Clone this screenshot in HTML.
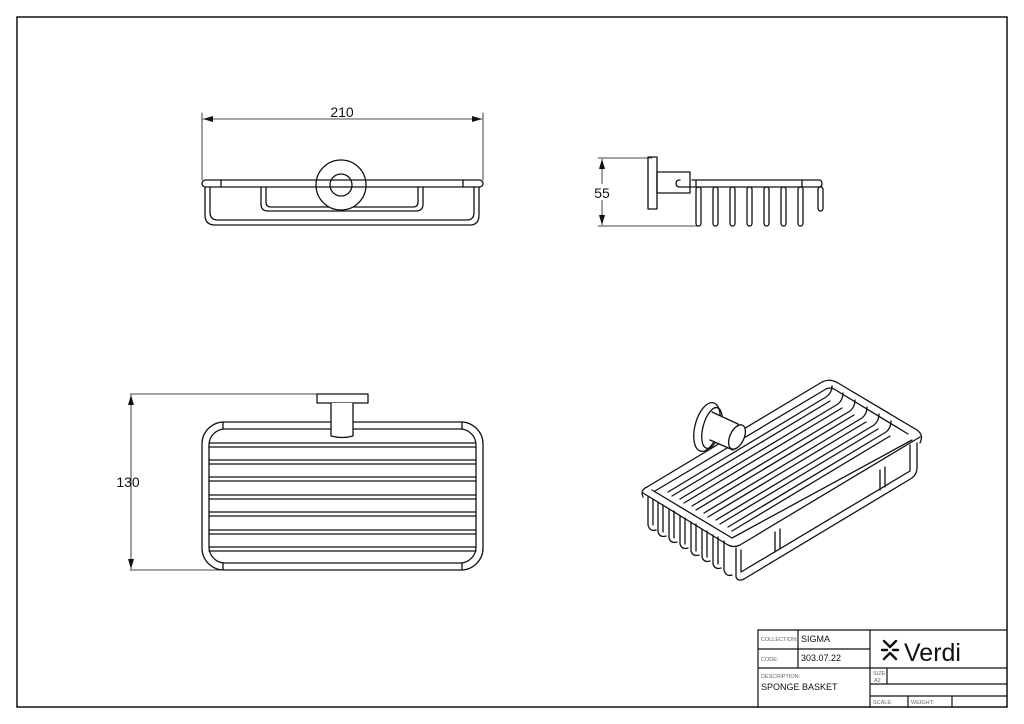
<!DOCTYPE html>
<html><head><meta charset="utf-8"><style>
html,body{margin:0;padding:0;background:#fff}
svg{display:block}
text{font-family:"Liberation Sans",sans-serif;fill:#111}
</style></head><body>
<svg width="1024" height="724" viewBox="0 0 1024 724" xmlns="http://www.w3.org/2000/svg">
<defs>
<marker id="ar" viewBox="0 0 10 6" refX="10" refY="3" markerWidth="10" markerHeight="6" orient="auto-start-reverse" markerUnits="userSpaceOnUse"><path d="M0,0L10,3L0,6z" fill="#111"/></marker>
</defs>
<rect x="17" y="17" width="990" height="690" fill="none" stroke="#111" stroke-width="1.5"/>

<!-- title block -->
<g stroke="#111" stroke-width="1.2" fill="none">
<path d="M758,707V630H1007"/>
<path d="M758,649H870M758,668H1007M798,630V668M870,630V707M870,684H1007M870,696H1007M887,668V684M908,696V707M952,696V707"/>
</g>
<g font-size="5.5">
<text x="761" y="641" style="fill:#666">COLLECTION:</text>
<text x="761" y="661" style="fill:#666">CODE:</text>
<text x="761" y="678" style="fill:#666">DESCRIPTION:</text>
<text x="873" y="675" style="fill:#666">SIZE</text>
<text x="874" y="682" style="fill:#666">A2</text>
<text x="873" y="704" style="fill:#666">SCALE:</text>
<text x="911" y="704" style="fill:#666">WEIGHT:</text>
</g>
<text x="801" y="642" font-size="9">SIGMA</text>
<text x="801" y="661" font-size="9">303.07.22</text>
<text x="761" y="690" font-size="9">SPONGE BASKET</text>
<g stroke="#111" stroke-width="2.4" stroke-linecap="round">
<path d="M884,641L890,647M896,641L890,647M884,659L890,653M896,659L890,653M882,650H887M893,650H898"/>
</g>
<text x="904" y="661" font-size="25" style="fill:#111">Verdi</text>

<g stroke="#111" fill="none" stroke-width="1.3" stroke-linecap="round" stroke-linejoin="round">
<!-- TOP VIEW -->
<path d="M202,113V180M483,113V180" stroke-width="0.8"/>
<path d="M203,119H482" stroke-width="0.8" marker-start="url(#ar)" marker-end="url(#ar)"/>
<rect x="202" y="180" width="281" height="7" rx="3.5"/>
<path d="M221,180V187M463,180V187"/>
<path d="M205,187V215Q205,225 215,225H470Q479,225 479,215V187"/>
<path d="M210,187V212Q210,220 218,220H467Q474,220 474,212V187"/>
<path d="M261,187V204Q261,211 268,211H416Q423,211 423,204V187"/>
<path d="M266,187V202Q266,207 271,207H413Q418,207 418,202V187"/>
<circle cx="341" cy="185" r="25" fill="#fff"/>
<circle cx="341" cy="185" r="11"/>
<path d="M316,180H366M316,187H366"/>

<!-- SIDE VIEW -->
<path d="M598,158H652M598,226H697" stroke-width="0.8"/>
<path d="M602,159V225" stroke-width="0.8" marker-start="url(#ar)" marker-end="url(#ar)"/>
<rect x="648" y="157" width="9" height="52"/>
<rect x="657" y="172" width="33" height="21"/>
<path d="M692,180H819Q822,180 822,183.5Q822,187 819,187H680Q676,187 676,183.5Q676,180 680,180"/>
<path d="M696,180V187M802,180V187"/>
<g>
<rect x="696" y="187" width="5" height="39" rx="2.5"/>
<rect x="713" y="187" width="5" height="39" rx="2.5"/>
<rect x="730" y="187" width="5" height="39" rx="2.5"/>
<rect x="747" y="187" width="5" height="39" rx="2.5"/>
<rect x="764" y="187" width="5" height="39" rx="2.5"/>
<rect x="781" y="187" width="5" height="39" rx="2.5"/>
<rect x="798" y="187" width="5" height="39" rx="2.5"/>
<rect x="818" y="187" width="5" height="24" rx="2.5"/>
</g>

<!-- FRONT VIEW -->
<path d="M130,394H330M130,570H225" stroke-width="0.8"/>
<path d="M131,395V569" stroke-width="0.8" marker-start="url(#ar)" marker-end="url(#ar)"/>
<rect x="202" y="422" width="281" height="148" rx="22"/>
<rect x="209" y="429" width="267" height="134" rx="16"/>
<path d="M223,422V429M462,422V429M223,563V570M462,563V570"/>
<g>
<path d="M209,443H476M209,447H476"/>
<path d="M209,460H476M209,464H476"/>
<path d="M209,477H476M209,481H476"/>
<path d="M209,495H476M209,499H476"/>
<path d="M209,512H476M209,516H476"/>
<path d="M209,530H476M209,534H476"/>
<path d="M209,547H476M209,551H476"/>
</g>
<rect x="317" y="394" width="51" height="9" fill="#fff"/>
<path d="M331,403V436Q342,439 353,436V403" fill="#fff"/>

<!-- ISO VIEW -->
<!-- back rails -->
<path d="M647,487L822,382Q830,378 838,383L917,430"/>
<path d="M655,491L826,389Q830,387 834,389L908,434"/>
<!-- floor slats with back curls -->
<g>
<path d="M668,492L826,397Q832,393 832,386V388"/>
<path d="M672,496L830,401"/>
<path d="M680,499L838,404Q843,400 843,393"/>
<path d="M684,503L842,408"/>
<path d="M692,506L850,411Q855,407 855,400"/>
<path d="M696,510L854,415"/>
<path d="M704,513L862,418Q867,414 867,407"/>
<path d="M708,517L866,422"/>
<path d="M716,520L874,425Q879,421 879,414"/>
<path d="M720,524L878,429"/>
<path d="M728,527L886,432Q891,428 891,421"/>
<path d="M732,531L890,436"/>
</g>
<!-- front rails -->
<path d="M643,493L728,545Q734,548 740,545L920,437"/>
<path d="M652,490L732,538L912,440"/>
<path d="M647,487Q640,490 643,497M917,430Q924,435 920,443"/>
<!-- left/front tines -->
<path d="M648,497V525Q650,532 656,530M658,503V532Q660,538 666,536M669,509V538Q671,544 677,542M680,516V544Q682,550 688,548M691,522V551Q693,557 699,555M702,529V557Q704,563 710,561M713,535V564Q715,570 721,568M724,541V570Q726,577 732,575"/>
<path d="M653,499V525M663,505V532M674,511V538M685,518V544M696,524V551M707,531V557M718,537V564"/>
<!-- right side lower rail -->
<path d="M736,548V577Q738,582 744,579L912,478Q917,474 917,468V443"/>
<path d="M741,550V572L910,471V445"/>
<path d="M775,532V552M780,529V549M880,470V490M885,467V487"/>
<!-- mount -->
<ellipse cx="707" cy="427" rx="12" ry="25" transform="rotate(15 707 427)" fill="#fff"/>
<ellipse cx="712" cy="428" rx="9" ry="21" transform="rotate(15 712 428)"/>
<path d="M712,412L738,424L733,450L710,440" fill="#fff"/>
<ellipse cx="737" cy="437" rx="7" ry="13" transform="rotate(25 737 437)" fill="#fff"/>
</g>

<rect x="328" y="105" width="28" height="13" fill="#fff"/>
<text x="342" y="117" font-size="14" text-anchor="middle">210</text>
<rect x="594" y="184" width="16" height="16" fill="#fff"/>
<text x="602" y="198" font-size="14" text-anchor="middle">55</text>
<text x="128" y="487" font-size="14" text-anchor="middle">130</text>
</svg>
</body></html>
